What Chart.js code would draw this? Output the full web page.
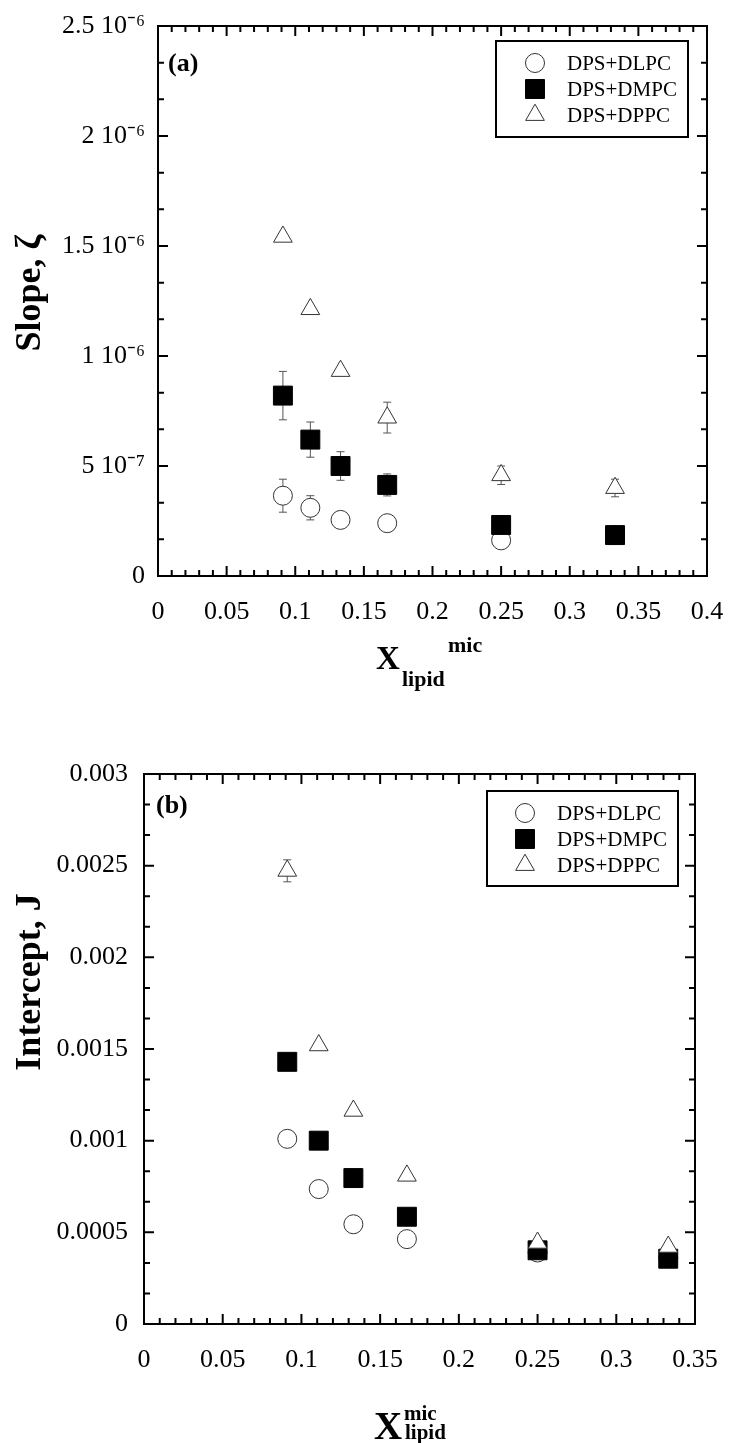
<!DOCTYPE html>
<html>
<head>
<meta charset="utf-8">
<script src="https://cdn.jsdelivr.net/npm/chart.js@4"></script>
<style>
html, body { margin: 0; padding: 0; background: #fff; }
#wrap { position: relative; width: 729px; height: 1443px; overflow: hidden; }
.panel { position: absolute; left: 0; width: 729px; }
#pa { top: 0; height: 720px; }
#pb { top: 720px; height: 723px; }
</style>
</head>
<body>
<div id="wrap">
  <div class="panel" id="pa"><canvas id="chartA"></canvas></div>
  <div class="panel" id="pb"><canvas id="chartB"></canvas></div>
</div>
<script>
// ---- data ----
const seriesNames = ['DPS+DLPC', 'DPS+DMPC', 'DPS+DPPC'];
const xLipid = [0.091, 0.111, 0.133, 0.167, 0.25, 0.333];

// (a) slope
const slopeDLPC = [3.65e-7, 3.1e-7, 2.55e-7, 2.4e-7, 1.62e-7, 1.86e-7];
const slopeDMPC = [8.2e-7, 6.2e-7, 5.0e-7, 4.14e-7, 2.32e-7, 1.86e-7];
const slopeDPPC = [1.542e-6, 1.213e-6, 9.32e-7, 7.2e-7, 4.58e-7, 4.0e-7];
const slopeErrDLPC = [7.5e-8, 5.5e-8, 0, 0, 0, 0];
const slopeErrDMPC = [1.1e-7, 8e-8, 6.5e-8, 5e-8, 0, 0];
const slopeErrDPPC = [0, 0, 0, 7e-8, 4.2e-8, 4e-8];
const slopeTickLabels = ['0', '5 10⁻⁷', '1 10⁻⁶', '1.5 10⁻⁶', '2 10⁻⁶', '2.5 10⁻⁶'];
const xTickLabelsA = ['0', '0.05', '0.1', '0.15', '0.2', '0.25', '0.3', '0.35', '0.4'];

// (b) intercept
const interDLPC = [0.00101, 0.000736, 0.000544, 0.000463, 0.00039, 0.00036];
const interDMPC = [0.00143, 0.001, 0.000796, 0.000585, 0.000402, 0.000356];
const interDPPC = [0.002472, 0.00152, 0.001163, 0.000809, 0.000443, 0.000421];
const interErrDLPC = [0, 0, 0, 0, 0, 0];
const interErrDMPC = [0, 0, 0, 0, 0, 0];
const interErrDPPC = [0.00006, 0, 0, 0, 0, 0];
const interTickLabels = ['0', '0.0005', '0.001', '0.0015', '0.002', '0.0025', '0.003'];
const xTickLabelsB = ['0', '0.05', '0.1', '0.15', '0.2', '0.25', '0.3', '0.35'];

const SERIF = "'Liberation Serif', 'Times New Roman', serif";

const markerStyles = [
    { pointStyle: 'circle', pointRadius: 9.5, backgroundColor: '#fff', borderColor: '#333', borderWidth: 1 },
    { pointStyle: 'rect', pointRadius: 13.4, backgroundColor: '#000', borderColor: '#000', borderWidth: 1 },
    { pointStyle: 'triangle', pointRadius: 10.8, backgroundColor: '#fff', borderColor: '#333', borderWidth: 1 }
];

function makeDatasets(ys, errs) {
    return ys.map((vals, k) => ({
        label: seriesNames[k],
        data: xLipid.map((x, i) => ({ x: x, y: vals[i] })),
        errors: errs[k],
        order: 3 - k,   // triangles on top, circles at the bottom
        pointStyle: markerStyles[k].pointStyle,
        pointRadius: markerStyles[k].pointRadius,
        pointHoverRadius: markerStyles[k].pointRadius,
        backgroundColor: markerStyles[k].backgroundColor,
        borderColor: markerStyles[k].borderColor,
        borderWidth: markerStyles[k].borderWidth,
        pointBorderWidth: markerStyles[k].borderWidth
    }));
}

// error bars, drawn under the markers
const errorBars = {
    id: 'errorBars',
    beforeDatasetsDraw(chart) {
        const { ctx, scales: { x, y } } = chart;
        ctx.save();
        ctx.strokeStyle = '#555';
        ctx.lineWidth = 1;
        chart.data.datasets.forEach(ds => {
            ds.data.forEach((p, i) => {
                const e = ds.errors[i];
                if (!e) return;
                const px = x.getPixelForValue(p.x);
                const y1 = y.getPixelForValue(p.y + e);
                const y2 = y.getPixelForValue(p.y - e);
                ctx.beginPath();
                ctx.moveTo(px, y1); ctx.lineTo(px, y2);
                ctx.moveTo(px - 4, y1); ctx.lineTo(px + 4, y1);
                ctx.moveTo(px - 4, y2); ctx.lineTo(px + 4, y2);
                ctx.stroke();
            });
        });
        ctx.restore();
    }
};

// box around the plot with inward ticks on all four sides
const frame = {
    id: 'frame',
    afterDraw(chart, args, o) {
        const { ctx, chartArea: a, scales: { x, y } } = chart;
        ctx.save();
        ctx.strokeStyle = '#000';
        ctx.lineWidth = 2;
        ctx.strokeRect(a.left, a.top, a.right - a.left, a.bottom - a.top);
        ctx.beginPath();
        const nx = Math.round((x.max - x.min) / o.xStep * o.xSub);
        for (let i = 1; i < nx; i++) {
            const px = x.getPixelForValue(x.min + i * o.xStep / o.xSub);
            const len = i % o.xSub === 0 ? 10 : 6;
            ctx.moveTo(px, a.bottom); ctx.lineTo(px, a.bottom - len);
            ctx.moveTo(px, a.top); ctx.lineTo(px, a.top + len);
        }
        const ny = Math.round((y.max - y.min) / o.yStep * o.ySub);
        for (let i = 1; i < ny; i++) {
            const py = y.getPixelForValue(y.min + i * o.yStep / o.ySub);
            const len = i % o.ySub === 0 ? 10 : 6;
            ctx.moveTo(a.left, py); ctx.lineTo(a.left + len, py);
            ctx.moveTo(a.right, py); ctx.lineTo(a.right - len, py);
        }
        ctx.stroke();
        ctx.restore();
    }
};

// boxed legend, panel letter, axis titles with sub/superscripts
const decor = {
    id: 'decor',
    afterDraw(chart, args, o) {
        const { ctx } = chart;
        const L = o.legend;
        ctx.save();
        ctx.fillStyle = '#fff';
        ctx.fillRect(L.x, L.y, L.w, L.h);
        ctx.strokeStyle = '#000';
        ctx.lineWidth = 2;
        ctx.strokeRect(L.x, L.y, L.w, L.h);
        ctx.font = '21px ' + SERIF;
        ctx.textBaseline = 'middle';
        chart.data.datasets.forEach((ds, k) => {
            const cy = L.row0 + k * L.gap;
            ctx.fillStyle = ds.backgroundColor;
            ctx.strokeStyle = ds.borderColor;
            ctx.lineWidth = ds.borderWidth;
            Chart.helpers.drawPoint(ctx, {
                pointStyle: ds.pointStyle, radius: ds.pointRadius, rotation: 0, borderWidth: ds.borderWidth
            }, L.markerX, cy);
            ctx.fillStyle = '#000';
            ctx.textAlign = 'left';
            ctx.fillText(ds.label, L.textX, cy + 1);
        });
        ctx.fillStyle = '#000';
        ctx.textBaseline = 'alphabetic';
        o.texts.forEach(t => {
            ctx.font = t.font;
            ctx.fillText(t.text, t.x, t.y);
        });
        // rotated y title
        const T = o.yTitle;
        ctx.translate(T.x, T.y);
        ctx.rotate(-Math.PI / 2);
        ctx.font = 'bold 36px ' + SERIF;
        ctx.textAlign = 'center';
        ctx.textBaseline = 'middle';
        ctx.fillText(T.text, 0, 0);
        ctx.restore();
    }
};

function makeChart(id, ys, errs, yMax, yStep, yLabels, xMax, xLabels, geo) {
    return new Chart(document.getElementById(id), {
        type: 'scatter',
        data: { datasets: makeDatasets(ys, errs) },
        options: {
            responsive: true,
            maintainAspectRatio: false,
            animation: false,
            events: [],
            layout: { padding: { top: geo.top, right: geo.right, left: 0, bottom: 0 } },
            plugins: {
                legend: { display: false },
                tooltip: { enabled: false },
                frame: { xStep: 0.05, xSub: 5, yStep: yStep, ySub: 3 },
                decor: { legend: geo.legend, texts: geo.texts, yTitle: geo.yTitle }
            },
            scales: {
                x: {
                    type: 'linear', min: 0, max: xMax,
                    grid: { display: false, drawTicks: false },
                    border: { display: false },
                    ticks: {
                        stepSize: 0.05, autoSkip: false, maxRotation: 0, padding: 21,
                        color: '#000', font: { family: SERIF, size: 26 },
                        callback: (v, i) => xLabels[i]
                    },
                    afterFit: s => { s.height = geo.xHeight; s.paddingLeft = 0; s.paddingRight = 0; }
                },
                y: {
                    type: 'linear', min: 0, max: yMax,
                    grid: { display: false, drawTicks: false },
                    border: { display: false },
                    ticks: {
                        stepSize: yStep, autoSkip: false, padding: geo.yPad,
                        color: '#000', font: { family: SERIF, size: 26 },
                        callback: (v, i) => yLabels[i]
                    },
                    afterFit: s => { s.width = geo.left; s.paddingTop = 0; s.paddingBottom = 0; }
                }
            }
        },
        plugins: [errorBars, frame, decor]
    });
}

makeChart('chartA',
    [slopeDLPC, slopeDMPC, slopeDPPC], [slopeErrDLPC, slopeErrDMPC, slopeErrDPPC],
    2.5e-6, 0.5e-6, slopeTickLabels, 0.4, xTickLabelsA,
    {
        top: 26, right: 22, left: 158, xHeight: 144, yPad: 13,
        legend: { x: 496, y: 41, w: 192, h: 96, row0: 63, gap: 26, markerX: 535, textX: 567 },
        yTitle: { text: 'Slope, ζ', x: 31, y: 293 },
        texts: [
            { text: '(a)', x: 168, y: 71, font: 'bold 26px ' + SERIF },
            { text: 'X', x: 376, y: 669, font: 'bold 33px ' + SERIF },
            { text: 'lipid', x: 402, y: 686, font: 'bold 22px ' + SERIF },
            { text: 'mic', x: 448, y: 652, font: 'bold 22px ' + SERIF }
        ]
    });

makeChart('chartB',
    [interDLPC, interDMPC, interDPPC], [interErrDLPC, interErrDMPC, interErrDPPC],
    0.003, 0.0005, interTickLabels, 0.35, xTickLabelsB,
    {
        top: 54, right: 34, left: 144, xHeight: 119, yPad: 16,
        legend: { x: 487, y: 71, w: 191, h: 95, row0: 93, gap: 26, markerX: 525, textX: 557 },
        yTitle: { text: 'Intercept, J', x: 31, y: 262 },
        texts: [
            { text: '(b)', x: 156, y: 93, font: 'bold 26px ' + SERIF },
            { text: 'X', x: 374, y: 719, font: 'bold 39px ' + SERIF },
            { text: 'mic', x: 404, y: 700, font: 'bold 21px ' + SERIF },
            { text: 'lipid', x: 405, y: 719, font: 'bold 21px ' + SERIF }
        ]
    });
</script>
</body>
</html>
